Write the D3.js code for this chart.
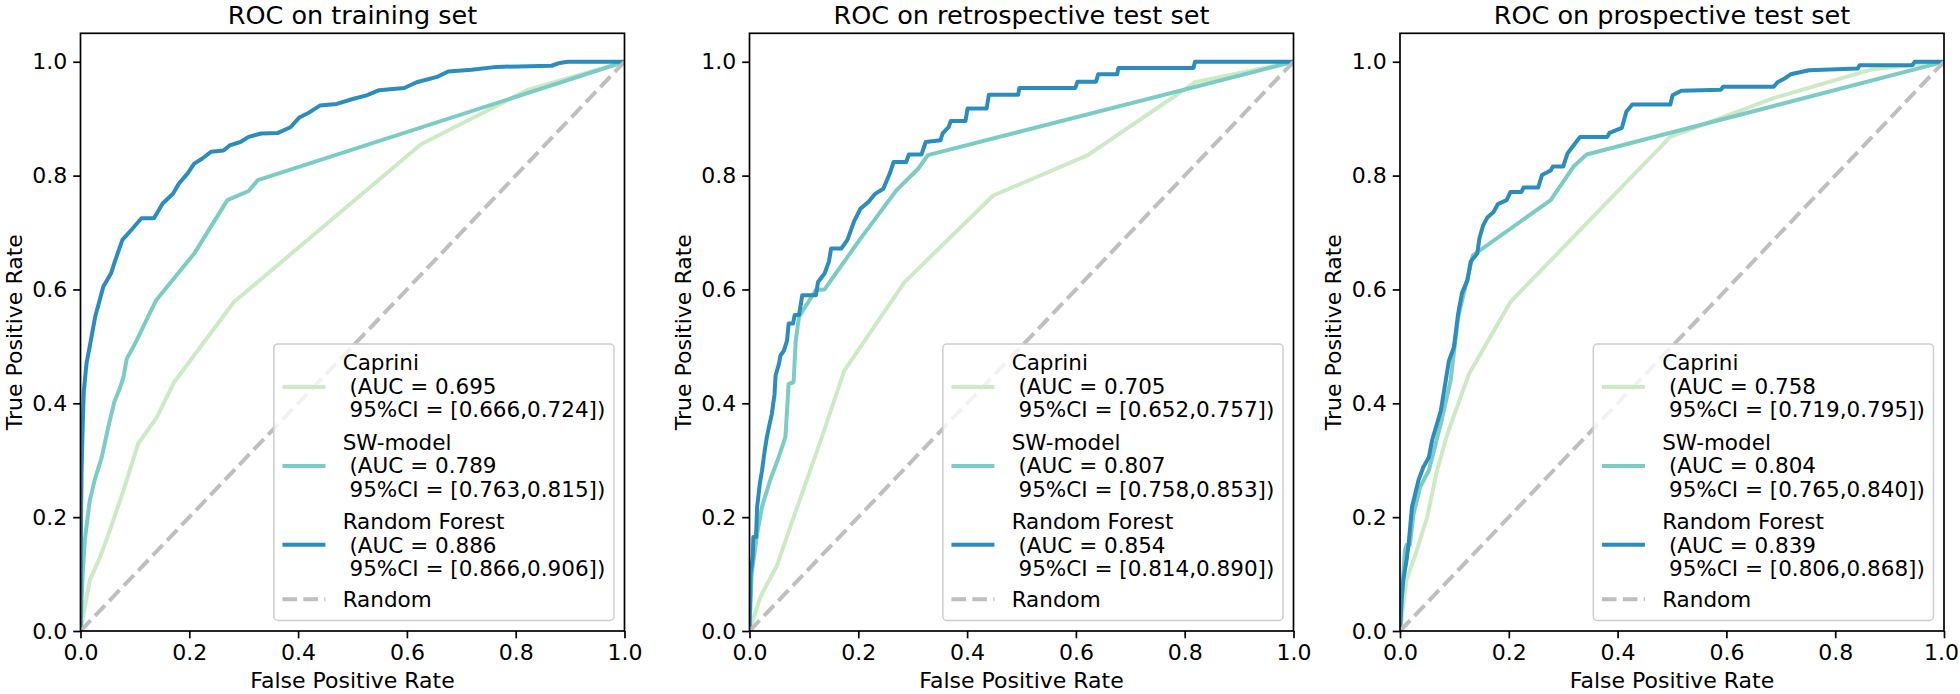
<!DOCTYPE html>
<html>
<head>
<meta charset="utf-8">
<script src="https://cdn.jsdelivr.net/npm/d3@7"></script>
<style>
  html, body { margin: 0; padding: 0; background: #fff; }
  svg text { font-family: "DejaVu Sans", sans-serif; }
</style>
</head>
<body>
<svg id="chart" width="1960" height="694"></svg>
<script>
// ---------------- DATA ----------------
const panelTitles = ["ROC on training set", "ROC on retrospective test set", "ROC on prospective test set"];
const modelNames = ["Caprini", "SW-model", "Random Forest"];
const modelColors = ["#ccebc5", "#7bccc4", "#2b8cbe"];
const xTicks = [0, 0.2, 0.4, 0.6, 0.8, 1.0];
const yTicks = [0, 0.2, 0.4, 0.6, 0.8, 1.0];

// AUC and 95% CI per panel: [Caprini, SW-model, Random Forest]
const aucTrain = ["0.695", "0.789", "0.886"];
const ciTrain = ["[0.666,0.724]", "[0.763,0.815]", "[0.866,0.906]"];
const aucRetro = ["0.705", "0.807", "0.854"];
const ciRetro = ["[0.652,0.757]", "[0.758,0.853]", "[0.814,0.890]"];
const aucProsp = ["0.758", "0.804", "0.839"];
const ciProsp = ["[0.719,0.795]", "[0.765,0.840]", "[0.806,0.868]"];

// ROC curves as [FPR, TPR]
const trainCaprini = [[0,0],[0.017,0.089],[0.036,0.130],[0.054,0.177],[0.079,0.247],[0.106,0.329],[0.140,0.375],[0.172,0.437],[0.229,0.51],[0.282,0.578],[0.626,0.855],[0.823,0.951],[1,1]];
const trainSW = [[0,0],[0.004,0.10],[0.008,0.16],[0.014,0.206],[0.017,0.229],[0.026,0.265],[0.039,0.305],[0.051,0.358],[0.062,0.402],[0.073,0.428],[0.079,0.446],[0.085,0.478],[0.103,0.51],[0.124,0.552],[0.139,0.581],[0.209,0.663],[0.270,0.757],[0.309,0.773],[0.326,0.792],[1,1]];
const trainRF = [[0,0],[0.001,0.2],[0.002,0.28],[0.004,0.36],[0.006,0.42],[0.011,0.47],[0.017,0.50],[0.027,0.552],[0.042,0.605],[0.056,0.628],[0.062,0.646],[0.077,0.687],[0.093,0.704],[0.112,0.725],[0.135,0.725],[0.151,0.751],[0.170,0.768],[0.181,0.786],[0.197,0.804],[0.209,0.821],[0.224,0.830],[0.240,0.842],[0.263,0.844],[0.274,0.853],[0.294,0.859],[0.309,0.868],[0.332,0.874],[0.363,0.875],[0.386,0.885],[0.402,0.902],[0.417,0.909],[0.440,0.923],[0.471,0.926],[0.502,0.935],[0.526,0.941],[0.549,0.950],[0.595,0.954],[0.618,0.964],[0.657,0.974],[0.676,0.983],[0.719,0.986],[0.765,0.991],[0.866,0.993],[0.881,0.998],[0.896,1.0],[1,1]];

const retroCaprini = [[0,0],[0.020,0.060],[0.051,0.116],[0.075,0.183],[0.103,0.259],[0.131,0.335],[0.174,0.457],[0.285,0.613],[0.448,0.765],[0.622,0.836],[0.819,0.964],[1,1]];
const retroSW = [[0,0],[0.004,0.10],[0.014,0.171],[0.023,0.218],[0.038,0.265],[0.054,0.306],[0.066,0.341],[0.072,0.434],[0.081,0.437],[0.085,0.51],[0.091,0.552],[0.122,0.599],[0.138,0.600],[0.200,0.684],[0.270,0.774],[0.310,0.812],[0.328,0.836],[1,1]];
const retroRF = [[0,0],[0.002,0.10],[0.006,0.13],[0.007,0.165],[0.012,0.165],[0.014,0.218],[0.019,0.259],[0.023,0.282],[0.028,0.317],[0.032,0.341],[0.037,0.364],[0.041,0.381],[0.046,0.416],[0.048,0.449],[0.054,0.469],[0.057,0.484],[0.063,0.492],[0.069,0.51],[0.072,0.540],[0.080,0.540],[0.083,0.555],[0.091,0.555],[0.097,0.590],[0.122,0.590],[0.126,0.613],[0.138,0.628],[0.146,0.649],[0.150,0.672],[0.169,0.672],[0.180,0.687],[0.192,0.719],[0.204,0.742],[0.219,0.754],[0.231,0.768],[0.246,0.777],[0.258,0.804],[0.265,0.824],[0.288,0.824],[0.293,0.837],[0.316,0.837],[0.324,0.859],[0.351,0.862],[0.355,0.874],[0.366,0.885],[0.370,0.896],[0.397,0.896],[0.401,0.918],[0.436,0.918],[0.440,0.942],[0.494,0.942],[0.496,0.954],[0.599,0.954],[0.603,0.965],[0.637,0.965],[0.641,0.978],[0.676,0.978],[0.678,0.989],[0.816,0.989],[0.819,1.0],[1,1]];

const prospCaprini = [[0,0],[0.012,0.089],[0.031,0.142],[0.050,0.200],[0.068,0.282],[0.087,0.346],[0.127,0.452],[0.203,0.578],[0.497,0.868],[0.683,0.935],[0.869,0.987],[1,1]];
const prospSW = [[0,0],[0.004,0.072],[0.009,0.142],[0.012,0.151],[0.018,0.151],[0.025,0.206],[0.037,0.253],[0.053,0.282],[0.075,0.364],[0.093,0.44],[0.107,0.552],[0.134,0.660],[0.277,0.757],[0.319,0.816],[0.343,0.837],[1,1]];
const prospRF = [[0,0],[0.003,0.054],[0.006,0.089],[0.012,0.124],[0.016,0.154],[0.022,0.218],[0.028,0.241],[0.034,0.265],[0.043,0.288],[0.053,0.305],[0.059,0.335],[0.068,0.364],[0.075,0.387],[0.081,0.422],[0.090,0.475],[0.099,0.498],[0.107,0.558],[0.114,0.594],[0.124,0.616],[0.130,0.649],[0.142,0.663],[0.146,0.690],[0.153,0.713],[0.161,0.727],[0.172,0.736],[0.180,0.750],[0.196,0.757],[0.203,0.771],[0.223,0.771],[0.227,0.779],[0.254,0.779],[0.261,0.801],[0.277,0.809],[0.281,0.816],[0.300,0.816],[0.308,0.839],[0.319,0.853],[0.331,0.868],[0.381,0.868],[0.385,0.875],[0.408,0.884],[0.416,0.912],[0.427,0.925],[0.497,0.925],[0.501,0.941],[0.517,0.949],[0.590,0.951],[0.594,0.956],[0.687,0.956],[0.694,0.964],[0.706,0.970],[0.718,0.978],[0.752,0.985],[0.841,0.988],[0.845,0.994],[0.942,0.994],[0.946,1.0],[1,1]];

const randomLine = [[0,0],[1,1]];

const panels = [
  { title: panelTitles[0], curves: [trainCaprini, trainSW, trainRF], auc: aucTrain, ci: ciTrain },
  { title: panelTitles[1], curves: [retroCaprini, retroSW, retroRF], auc: aucRetro, ci: ciRetro },
  { title: panelTitles[2], curves: [prospCaprini, prospSW, prospRF], auc: aucProsp, ci: ciProsp }
];

// ---------------- LAYOUT ----------------
const W = 1960;
const panelLeft = [80.5, 749.5, 1400];
const plotW = 544, plotTop = 33.3, plotBottom = 631;
const FS = 22;           // tick / axis label font size
const LFS = 21.5;        // legend font size
const lw = 4;            // curve line width
const dash = "14.6,6.3";
const svg = d3.select("#chart");

panels.forEach((p, i) => {
  const L = panelLeft[i];
  const x = d3.scaleLinear().domain([0, 1]).range([L, L + plotW]);
  const y = d3.scaleLinear().domain([0, 1.05]).range([plotBottom, plotTop]);
  const g = svg.append("g");

  const clipId = "clip" + i;
  g.append("clipPath").attr("id", clipId).append("rect")
    .attr("x", L).attr("y", plotTop).attr("width", plotW).attr("height", plotBottom - plotTop);

  const line = d3.line().x(d => x(d[0])).y(d => y(d[1]));
  const plotG = g.append("g").attr("clip-path", `url(#${clipId})`);

  p.curves.forEach((c, k) => {
    plotG.append("path").datum(c).attr("d", line)
      .attr("fill", "none").attr("stroke", modelColors[k])
      .attr("stroke-width", lw).attr("stroke-linejoin", "round").attr("stroke-linecap", "square");
  });
  plotG.append("path").datum(randomLine).attr("d", line)
    .attr("fill", "none").attr("stroke", "#bfbfbf")
    .attr("stroke-width", lw).attr("stroke-dasharray", dash);

  // axes
  const xAxis = d3.axisBottom(x).tickValues(xTicks).tickFormat(d3.format(".1f"))
    .tickSize(7.3).tickPadding(6).tickSizeOuter(0);
  const yAxis = d3.axisLeft(y).tickValues(yTicks).tickFormat(d3.format(".1f"))
    .tickSize(7.3).tickPadding(6).tickSizeOuter(0);
  const gx = g.append("g").attr("transform", `translate(0,${plotBottom})`).call(xAxis);
  const gy = g.append("g").attr("transform", `translate(${L},0)`).call(yAxis);
  [gx, gy].forEach(a => {
    a.select(".domain").remove();
    a.selectAll(".tick line").attr("stroke", "#000").attr("stroke-width", 1.7);
    a.selectAll(".tick text").attr("fill", "#000").attr("font-size", FS)
      .attr("font-family", "DejaVu Sans");
  });
  // keep the right-most tick label inside the page
  gx.selectAll(".tick text").each(function () {
    const b = this.getBBox();
    const tr = this.parentNode.getAttribute("transform");
    const tx = +tr.match(/translate\(([-\d.]+)/)[1];
    const over = tx + b.x + b.width - (W - 1);
    if (over > 0) d3.select(this).attr("x", -over);
  });

  // frame
  g.append("rect").attr("x", L).attr("y", plotTop).attr("width", plotW)
    .attr("height", plotBottom - plotTop).attr("fill", "none")
    .attr("stroke", "#000").attr("stroke-width", 1.7);

  // title
  g.append("text").attr("x", L + plotW / 2).attr("y", 24)
    .attr("text-anchor", "middle").attr("font-size", 25.5).attr("fill", "#000").text(p.title);

  // axis labels
  g.append("text").attr("x", L + plotW / 2).attr("y", 688)
    .attr("text-anchor", "middle").attr("font-size", FS).attr("fill", "#000").text("False Positive Rate");
  g.append("text")
    .attr("transform", `translate(${L - 59},${(plotTop + plotBottom) / 2}) rotate(-90)`)
    .attr("text-anchor", "middle").attr("font-size", FS).attr("fill", "#000").text("True Positive Rate");

  // legend
  const lg = g.append("g");
  const legRect = lg.append("rect");
  const entryBase = [26, 105.5, 185];
  const handleY = [43, 122, 200.7];
  const texts = [];
  modelNames.forEach((name, k) => {
    const lines = [name, " (AUC = " + p.auc[k], " 95%CI = " + p.ci[k] + ")"];
    lines.forEach((t, j) => {
      texts.push({ t, dy: entryBase[k] + j * 23.5 });
    });
  });
  texts.push({ t: "Random", dy: 263 });
  const tNodes = texts.map(o => lg.append("text").attr("font-size", LFS).attr("fill", "#000")
    .style("white-space", "pre").text(o.t));
  const maxW = d3.max(tNodes, n => n.node().getComputedTextLength());
  const padL = 8.6, handleLen = 43, textPad = 17.2, padR = 8.6;
  const legW = padL + handleLen + textPad + maxW + padR, legH = 276.5;
  const legR = L + plotW - 10.5, legB = plotBottom - 10.5;
  const legL = legR - legW, legT = legB - legH;
  legRect.attr("x", legL).attr("y", legT).attr("width", legW).attr("height", legH)
    .attr("rx", 4).attr("ry", 4)
    .attr("fill", "#fff").attr("fill-opacity", 0.8)
    .attr("stroke", "#cccccc").attr("stroke-width", 1.5);
  const textX = legL + padL + handleLen + textPad;
  tNodes.forEach((n, j) => n.attr("x", textX).attr("y", legT + texts[j].dy));
  modelNames.forEach((name, k) => {
    lg.append("line").attr("x1", legL + padL + 2).attr("x2", legL + padL + handleLen - 2)
      .attr("y1", legT + handleY[k]).attr("y2", legT + handleY[k])
      .attr("stroke", modelColors[k]).attr("stroke-width", lw).attr("stroke-linecap", "square");
  });
  lg.append("line").attr("x1", legL + padL).attr("x2", legL + padL + handleLen)
    .attr("y1", legT + 255.3).attr("y2", legT + 255.3)
    .attr("stroke", "#bfbfbf").attr("stroke-width", lw).attr("stroke-dasharray", dash);
});
</script>
</body>
</html>
